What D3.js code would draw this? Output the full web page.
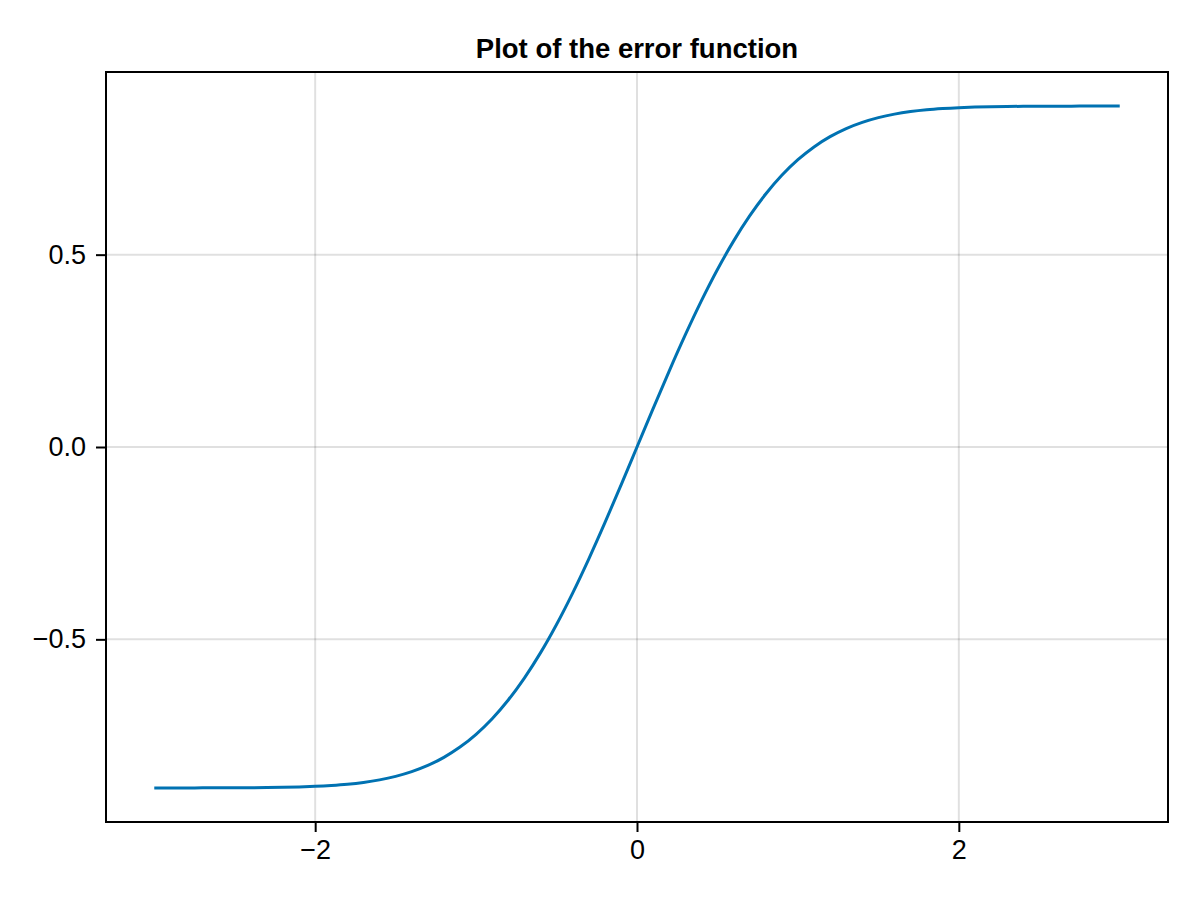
<!DOCTYPE html>
<html><head><meta charset="utf-8">
<script src="https://cdn.jsdelivr.net/npm/d3@7"></script>
<style>body{margin:0;background:#fff;} svg{display:block;}</style>
</head><body>
<script>
const xValues = [-3.0,-2.9,-2.8,-2.7,-2.6,-2.5,-2.4,-2.3,-2.2,-2.1,-2.0,-1.9,-1.8,-1.7,-1.6,-1.5,-1.4,-1.3,-1.2,-1.1,-1.0,-0.9,-0.8,-0.7,-0.6,-0.5,-0.4,-0.3,-0.2,-0.1,0.0,0.1,0.2,0.3,0.4,0.5,0.6,0.7,0.8,0.9,1.0,1.1,1.2,1.3,1.4,1.5,1.6,1.7,1.8,1.9,2.0,2.1,2.2,2.3,2.4,2.5,2.6,2.7,2.8,2.9,3.0];
const yValues = [-0.8862,-0.8862,-0.8862,-0.8861,-0.8860,-0.8859,-0.8856,-0.8852,-0.8846,-0.8836,-0.8821,-0.8798,-0.8766,-0.8719,-0.8653,-0.8562,-0.8439,-0.8278,-0.8067,-0.7801,-0.7468,-0.7063,-0.6577,-0.6007,-0.5352,-0.4613,-0.3797,-0.2912,-0.1974,-0.0997,0.0,0.0997,0.1974,0.2912,0.3797,0.4613,0.5352,0.6007,0.6577,0.7063,0.7468,0.7801,0.8067,0.8278,0.8439,0.8562,0.8653,0.8719,0.8766,0.8798,0.8821,0.8836,0.8846,0.8852,0.8856,0.8859,0.8860,0.8861,0.8862,0.8862,0.8862];
const xTicks = [-2, 0, 2];
const yTicks = [-0.5, 0.0, 0.5];
const yTickLabels = ["−0.5", "0.0", "0.5"];
const xTickLabels = ["−2", "0", "2"];
const title = "Plot of the error function";

const W = 1200, H = 900;
const m = {left: 106, top: 72, right: 1168, bottom: 822};
const svg = d3.select("body").append("svg").attr("width", W).attr("height", H);
svg.append("rect").attr("width", W).attr("height", H).attr("fill", "#fff");

const xExt = d3.extent(xValues), yExt = d3.extent(yValues);
const xPad = (xExt[1]-xExt[0])*0.05, yPad = (yExt[1]-yExt[0])*0.05;
const x = d3.scaleLinear().domain([xExt[0]-xPad, xExt[1]+xPad]).range([m.left, m.right]);
const y = d3.scaleLinear().domain([yExt[0]-yPad, yExt[1]+yPad]).range([m.bottom, m.top]);

const font = "'Liberation Sans', Arial, Helvetica, sans-serif";

// grid
svg.append("g").selectAll("line").data(xTicks).join("line")
  .attr("x1", d=>x(d)).attr("x2", d=>x(d)).attr("y1", m.top).attr("y2", m.bottom)
  .attr("stroke", "rgba(0,0,0,0.12)").attr("stroke-width", 2);
svg.append("g").selectAll("line").data(yTicks).join("line")
  .attr("y1", d=>y(d)).attr("y2", d=>y(d)).attr("x1", m.left).attr("x2", m.right)
  .attr("stroke", "rgba(0,0,0,0.12)").attr("stroke-width", 2);

// line
const line = d3.line().x((d,i)=>x(xValues[i])).y(d=>y(d)).curve(d3.curveCatmullRom);
svg.append("path").datum(yValues).attr("d", line)
  .attr("fill", "none").attr("stroke", "#0072B2").attr("stroke-width", 3)
  .attr("stroke-linejoin", "round");

// axes
const xAxis = d3.axisBottom(x).tickValues(xTicks).tickFormat((d,i)=>xTickLabels[i]).tickSizeOuter(0).tickSizeInner(10).tickPadding(8);
const gx = svg.append("g").attr("transform", `translate(0,${m.bottom})`).call(xAxis);
const yAxis = d3.axisLeft(y).tickValues(yTicks).tickFormat((d,i)=>yTickLabels[i]).tickSizeOuter(0).tickSizeInner(10).tickPadding(10);
const gy = svg.append("g").attr("transform", `translate(${m.left},0)`).call(yAxis);
[gx, gy].forEach(g => {
  g.select(".domain").remove();
  g.selectAll(".tick line").attr("stroke", "#000").attr("stroke-width", 2);
  g.selectAll(".tick text").attr("font-family", font).attr("font-size", 27).attr("fill", "#000");
});

// frame
svg.append("rect").attr("x", m.left).attr("y", m.top).attr("width", m.right-m.left).attr("height", m.bottom-m.top)
  .attr("fill", "none").attr("stroke", "#000").attr("stroke-width", 2);

// title
svg.append("text").attr("x", (m.left+m.right)/2).attr("y", 58).attr("text-anchor", "middle")
  .attr("font-family", font).attr("font-weight", "bold").attr("font-size", 27.5).attr("fill", "#000").text(title);
</script>
</body></html>
